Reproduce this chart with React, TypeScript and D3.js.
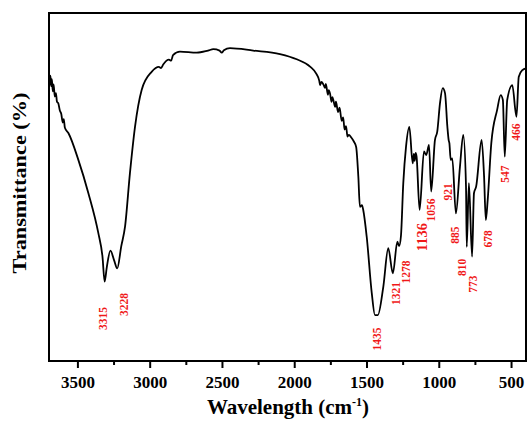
import React from "react";
import * as d3 from "d3";

// Spectrum (wavenumber cm^-1, transmittance in arbitrary %)
const wavenumber = [
  3700, 3694, 3690, 3685, 3680, 3674, 3668, 3660, 3652, 3645, 3636, 3625, 3615, 3605, 3598, 3590, 3566,
  3497, 3428, 3359, 3330, 3315, 3300, 3275, 3250, 3228, 3200, 3174, 3140, 3105, 3059, 2990, 2940, 2925, 2910,
  2870, 2855, 2842, 2794, 2678, 2600, 2563, 2520, 2505, 2490, 2448, 2287, 2102, 1986, 1894, 1850,
  1830, 1825, 1815, 1802, 1790, 1785, 1770, 1765, 1756, 1745, 1740, 1733, 1720, 1715, 1700, 1690, 1675, 1665,
  1655, 1645, 1635, 1625, 1610, 1590, 1575, 1560, 1549, 1535, 1526, 1502, 1467, 1445, 1425, 1387, 1353, 1321,
  1290, 1278, 1265, 1249, 1230, 1207, 1184, 1176, 1170, 1163, 1157, 1136, 1106, 1090, 1071, 1056, 1030, 1014,
  995, 976, 960, 944, 935, 930, 921, 910, 885, 857, 834, 815, 810, 795, 773, 760, 745, 707, 690, 678, 665, 640,
  600, 575, 560, 547, 530, 495, 466, 450, 425, 400,
];
const transmittance = [
  81.3, 79.5, 82, 79, 81, 77.5, 79.5, 76, 77, 74.5, 74.1, 72, 71, 68.5, 69.5, 67, 65.5,
  57.8, 48.3, 36.8, 30, 22.8, 27, 31.7, 29, 26.6, 33, 38.6, 54.0, 67.3, 77.9, 83.1, 84.5, 84.2, 85.2,
  86.6, 86.3, 87.9, 88.9, 88.6, 89.2, 89.6, 89.2, 88.6, 89.3, 89.9, 89.2, 88.2, 86.7, 84.6, 82.5,
  80.5, 79.3, 80.2, 79.5, 78.5, 79.6, 76.5, 77.8, 76.9, 74.5, 75.8, 75.0, 73, 74.5, 71.5, 72.8, 69, 70,
  66.5, 67.5, 64.5, 65, 64.3, 63, 61.5, 53.0, 44.3, 44.8, 43.4, 35.7, 19.5, 13.2, 13.2, 21.4, 32.4, 25.2,
  34.3, 33, 36, 51.1, 61.6, 67.3, 56.8, 59.5, 57.5, 59.8, 58.7, 43.4, 60.2, 59.2, 62.1, 48.7, 63.5, 65.9,
  74.1, 78.4, 76.9, 67.3, 63.5, 62.6, 57.8, 58.2, 42.4, 55.8, 65.0, 50.1, 32.8, 51.1, 30.0, 48.2, 50.1, 63.5,
  53.0, 40.5, 46.3, 62.6, 72.1, 76.4, 75.0, 58.7, 75.0, 79.3, 70.2, 81.7, 83.6, 84.1,
];

// Peak annotations
const peakLabels = ["3315", "3228", "1435", "1321", "1278", "1136", "1056", "921", "885", "810", "773", "678", "547", "466"];
const peakLabelW = [3324, 3181, 1433, 1302, 1232, 1118, 1059, 938, 891, 845, 765, 661, 545, 471];
const peakLabelT = [12.2, 16.2, 6.3, 19.4, 25.6, 35.6, 43.4, 48.6, 36.2, 26.9, 22.1, 35.1, 53.7, 65.8];

const xTicks = [3500, 3000, 2500, 2000, 1500, 1000, 500];
const xMinorTicks = [3250, 2750, 2250, 1750, 1250, 750];

const W = 528;
const H = 424;
const left = 49;
const right = 526;
const top = 13;
const bottom = 361;

export default function App() {
  const x = d3.scaleLinear().domain([3700, 400]).range([left, right]);
  const y = d3.scaleLinear().domain([0, 100]).range([bottom, top]);
  const pts: [number, number][] = wavenumber.map((w, i) => [w, transmittance[i]]);
  const line = d3
    .line<[number, number]>()
    .x((d) => x(d[0]))
    .y((d) => y(d[1]))
    .curve(d3.curveMonotoneX);
  const serif = "'Liberation Serif', 'Times New Roman', serif";
  return (
    <svg
      width={W}
      height={H}
      style={{ position: "absolute", left: 0, top: 0, background: "#fff" }}
      fontFamily={serif}
    >
      <rect x={0} y={0} width={W} height={H} fill="#fff" />
      <path d={line(pts) || ""} fill="none" stroke="#000" strokeWidth={1.8} strokeLinejoin="round" />
      <rect x={left} y={top} width={right - left} height={bottom - top} fill="none" stroke="#000" strokeWidth={2} />
      {xTicks.map((t) => (
        <g key={t}>
          <line x1={x(t)} x2={x(t)} y1={bottom} y2={bottom + 7} stroke="#000" strokeWidth={2} />
          <text x={x(t)} y={388} textAnchor="middle" fontSize={17} fontWeight="bold">
            {t}
          </text>
        </g>
      ))}
      {xMinorTicks.map((t) => (
        <line key={t} x1={x(t)} x2={x(t)} y1={bottom} y2={bottom + 4} stroke="#000" strokeWidth={2} />
      ))}
      {peakLabels.map((lab, i) => (
        <text
          key={lab}
          transform={`translate(${x(peakLabelW[i])},${y(peakLabelT[i])}) rotate(-90)`}
          textAnchor="middle"
          dominantBaseline="central"
          fontSize={lab === "1136" ? 14.5 : 11.5}
          fontWeight="bold"
          fill="#f01818"
        >
          {lab}
        </text>
      ))}
      <text x={288} y={414} textAnchor="middle" fontSize={21} fontWeight="bold">
        Wavelength (cm
        <tspan dy={-8} fontSize={12}>-1</tspan>
        <tspan dy={8}>)</tspan>
      </text>
      <text
        transform={`translate(26,183) rotate(-90)`}
        textAnchor="middle"
        fontSize={19}
        fontWeight="bold"
        textLength={181}
        lengthAdjust="spacingAndGlyphs"
      >
        Transmittance (%)
      </text>
    </svg>
  );
}
